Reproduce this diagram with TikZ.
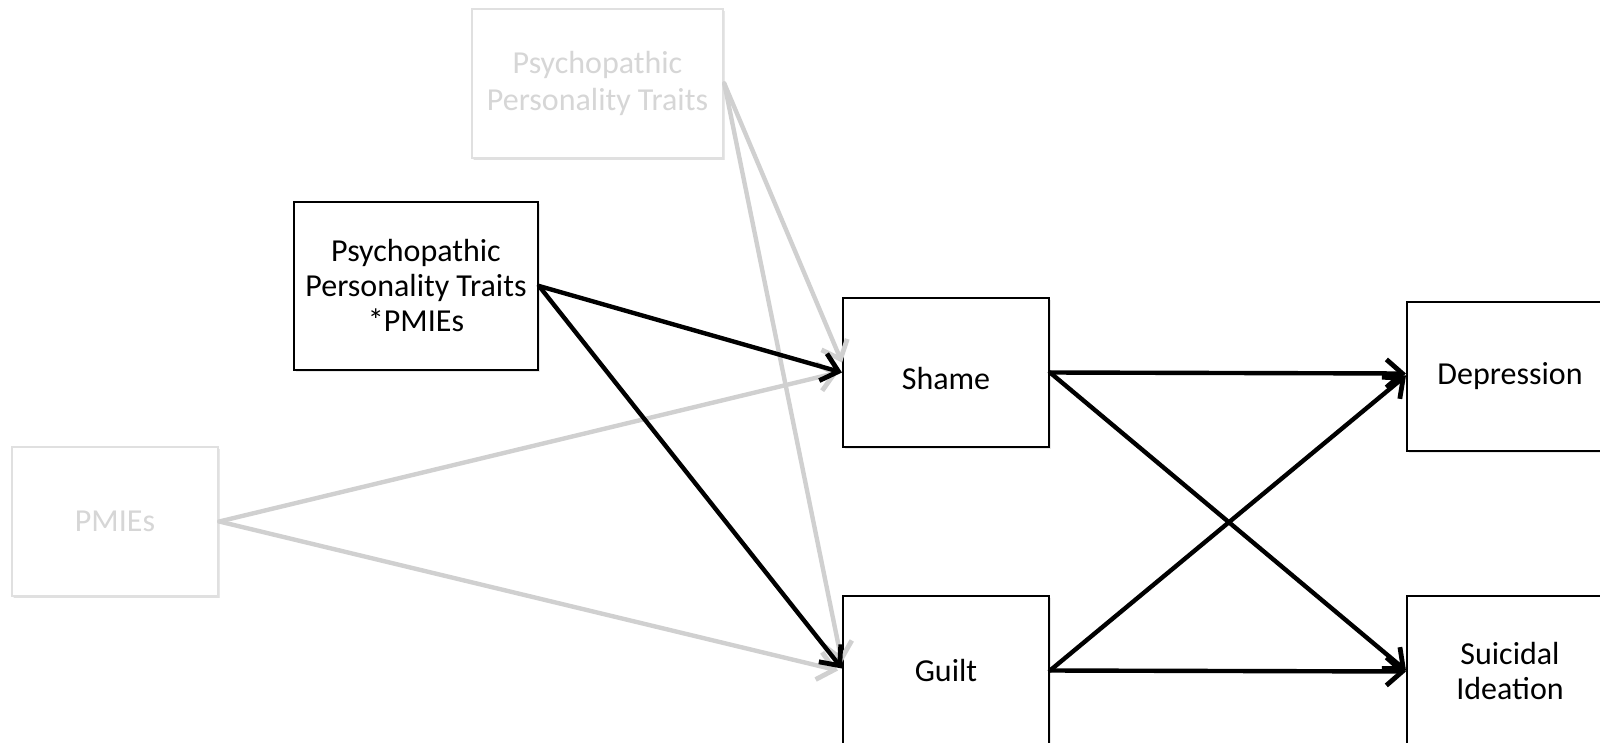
\documentclass[tikz,border=0pt]{standalone}
\usepackage{fontspec}
\setmainfont{Carlito}
\usetikzlibrary{arrows.meta,shadows}
\definecolor{ghostline}{RGB}{224,224,224}
\definecolor{ghosttext}{RGB}{214,214,214}
\definecolor{ghostarrow}{RGB}{208,208,208}
\begin{document}
\begin{tikzpicture}[x=0.5bp,y=-0.5bp,
  every node/.style={font=\fontsize{16bp}{17.5bp}\selectfont},
  box/.style={draw=black, line width=1bp, fill=white, align=center, inner sep=0pt,
    minimum width=103bp, minimum height=74.5bp,
    drop shadow={shadow xshift=0.8bp, shadow yshift=-1.2bp, opacity=0.18}},
  ghost/.style={box, draw=ghostline, line width=1.3bp, text=ghosttext,
    font=\fontsize{16bp}{18.5bp}\selectfont,
    drop shadow={shadow xshift=0.6bp, shadow yshift=-1bp, opacity=0.08}},
  path/.style={line width=2.2bp, line cap=round, line join=round,
    -{Straight Barb[length=8bp,width=14bp,line width=2.4bp]}},
  strong/.style={path, draw=black},
  faint/.style={path, draw=ghostarrow}]
\useasboundingbox (0,0) rectangle (1600,743);

% predictors
\node[ghost, minimum width=125.5bp] (ppt) at (597.5,83.5) {Psychopathic\\Personality Traits};
\node[box, minimum width=122bp, minimum height=84bp] (inter) at (416,286) {Psychopathic\\Personality Traits\\*PMIEs};
\node[ghost] (pmie) at (115,521.5) {PMIEs};

% mediators
\node[box] (shame) at (946,372.5) {\raisebox{-3bp}[\height][\depth]{Shame}};
\node[box] (guilt) at (946,670.5) {Guilt};

% outcomes
\node[box] (dep) at (1510,376.5) {Depression};
\node[box] (sui) at (1510,670.5) {Suicidal\\Ideation};

% main effects (faded)
\draw[faint] (ppt.east) -- ([yshift=5bp]shame.west);
\draw[faint] (ppt.east) -- ([yshift=4bp]guilt.west);
\draw[faint] (pmie.east) -- ([xshift=-2bp]shame.west);
\draw[faint] (pmie.east) -- ([xshift=-2bp]guilt.west);

% interaction paths
\draw[strong] (inter.east) -- (shame.west);
\draw[strong] (inter.east) -- ([yshift=1bp]guilt.west);

% mediator to outcome paths
\draw[strong] (shame.east) -- ([yshift=1.5bp]dep.west);
\draw[strong] (shame.east) -- (sui.west);
\draw[strong] (guilt.east) -- ([yshift=0.5bp]dep.west);
\draw[strong] (guilt.east) -- ([yshift=-0.5bp]sui.west);
\end{tikzpicture}
\end{document}
